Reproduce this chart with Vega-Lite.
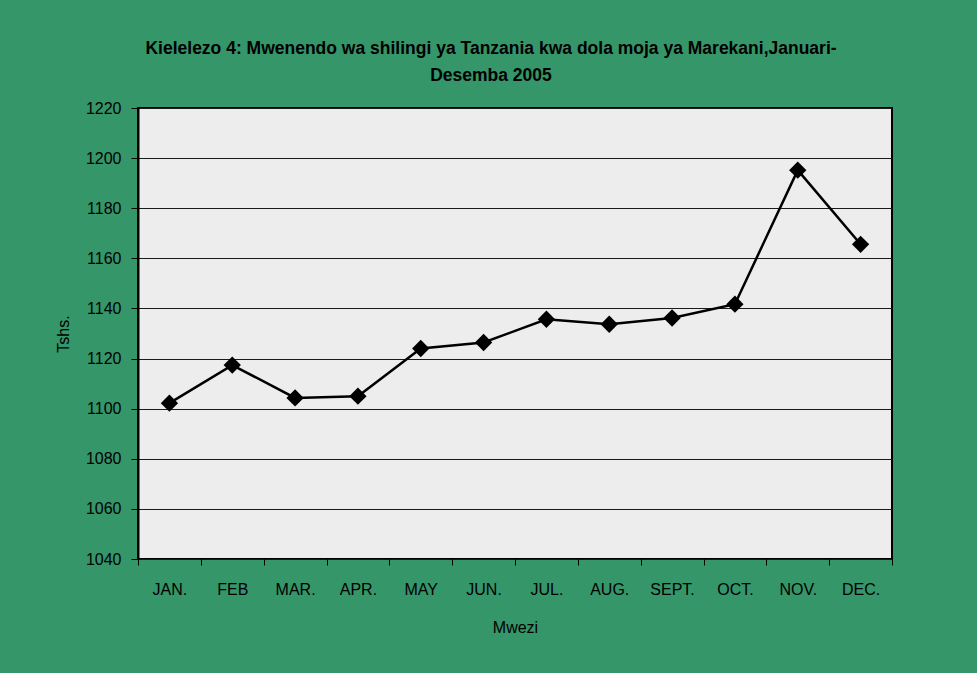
{
  "$schema": "https://vega.github.io/schema/vega-lite/v6.json",
  "width": 754,
  "height": 451,
  "autosize": {"type": "none"},
  "padding": {"left": 138, "top": 108, "right": 85, "bottom": 114},
  "background": "#35966A",
  "title": {
    "text": ["Kielelezo 4: Mwenendo wa shilingi ya Tanzania kwa dola moja ya Marekani,Januari-", "Desemba 2005"],
    "font": "Liberation Sans",
    "fontSize": 17.5,
    "fontWeight": "bold",
    "color": "#000000",
    "anchor": "middle",
    "dx": -24,
    "offset": 16,
    "lineHeight": 27
  },
  "data": {
    "values": [
      {"month": "JAN.", "tshs": 1102.2},
      {"month": "FEB", "tshs": 1117.4},
      {"month": "MAR.", "tshs": 1104.3},
      {"month": "APR.", "tshs": 1105.0},
      {"month": "MAY", "tshs": 1124.0},
      {"month": "JUN.", "tshs": 1126.4},
      {"month": "JUL.", "tshs": 1135.7},
      {"month": "AUG.", "tshs": 1133.7},
      {"month": "SEPT.", "tshs": 1136.2},
      {"month": "OCT.", "tshs": 1141.7},
      {"month": "NOV.", "tshs": 1195.2},
      {"month": "DEC.", "tshs": 1165.6}
    ]
  },
  "encoding": {
    "x": {
      "field": "month",
      "type": "ordinal",
      "sort": null,
      "scale": {"paddingInner": 0, "paddingOuter": 0},
      "axis": {
        "title": "Mwezi",
        "labelAngle": 0,
        "tickBand": "extent",
        "domain": false,
        "tickColor": "#000000",
        "tickSize": 6,
        "labelPadding": 16,
        "titlePadding": 22
      }
    },
    "y": {
      "field": "tshs",
      "type": "quantitative",
      "scale": {"domain": [1040, 1220], "nice": false, "zero": false},
      "axis": {
        "title": "Tshs.",
        "format": "d",
        "values": [1040, 1060, 1080, 1100, 1120, 1140, 1160, 1180, 1200, 1220],
        "tickColor": "#000000",
        "tickSize": 7,
        "labelPadding": 10,
        "titlePadding": 14,
        "domainColor": "#000000",
        "domainWidth": 2,
        "gridColor": "#1a1a1a",
        "gridOpacity": 1,
        "gridWidth": 1
      }
    }
  },
  "layer": [
    {"mark": {"type": "line", "color": "#000000", "strokeWidth": 2.5}},
    {"mark": {"type": "point", "shape": "diamond", "filled": true, "color": "#000000", "opacity": 1, "size": 300}}
  ],
  "config": {
    "view": {"fill": "#EDEDED", "stroke": "#000000", "strokeWidth": 2},
    "axis": {
      "labelFont": "Liberation Sans",
      "labelFontSize": 16,
      "labelColor": "#000000",
      "titleFont": "Liberation Sans",
      "titleFontSize": 16,
      "titleFontWeight": "normal",
      "titleColor": "#000000"
    },
    "axisX": {"grid": false}
  }
}
